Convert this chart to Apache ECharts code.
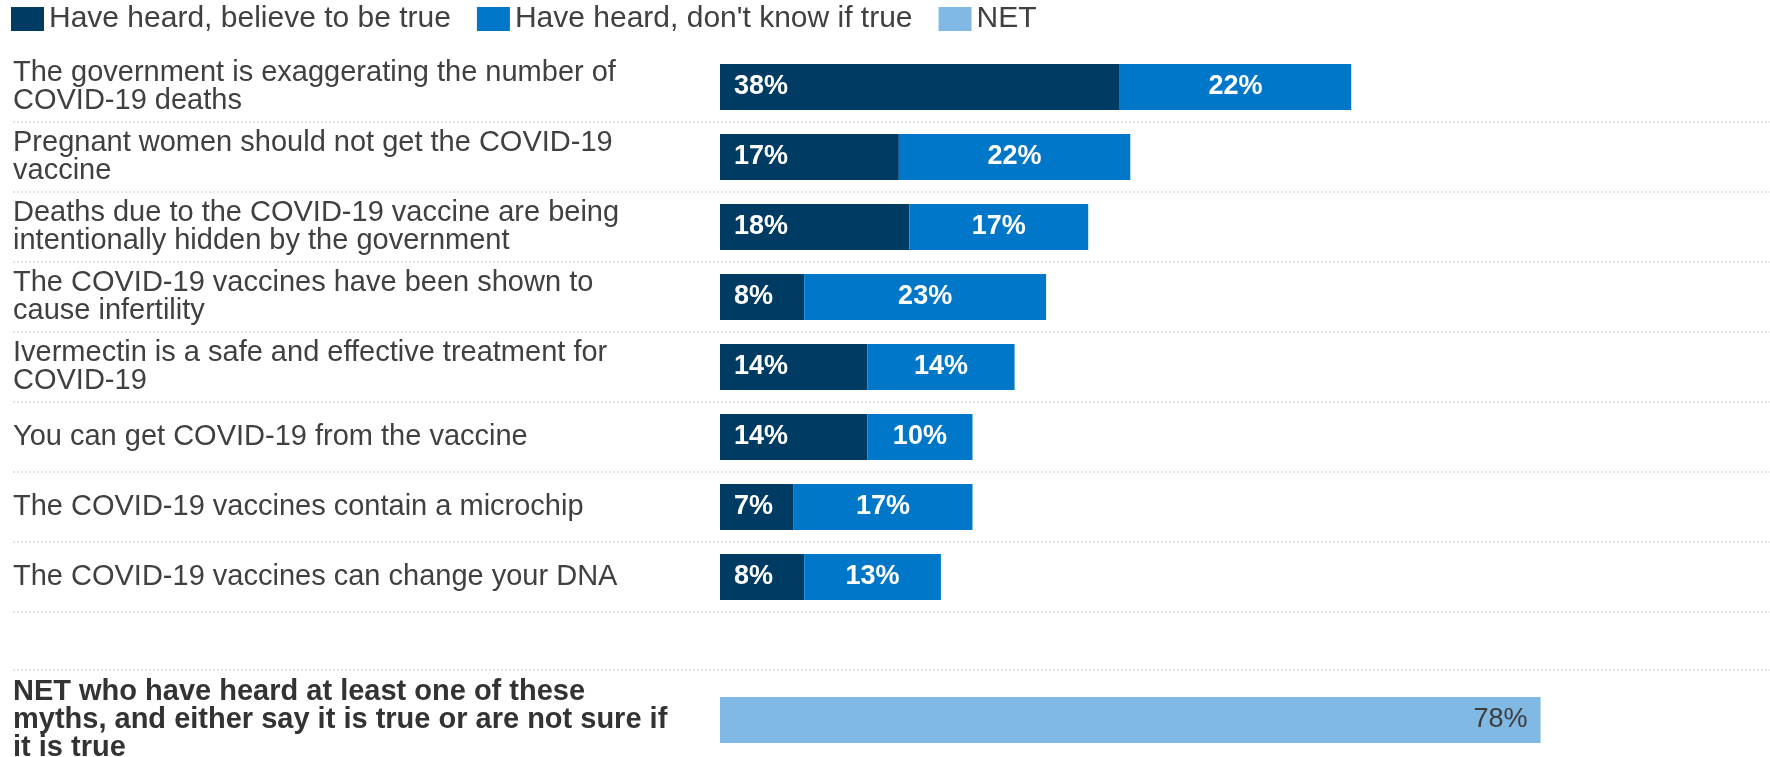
<!DOCTYPE html>
<html>
<head>
<meta charset="utf-8">
<script src="https://cdn.jsdelivr.net/npm/echarts@6/dist/echarts.min.js"></script>
<style>
  html, body { margin: 0; padding: 0; background: #fff; }
  #chart { width: 1770px; height: 757px; }
</style>
</head>
<body>
<div id="chart"></div>
<script>
// ---- Data ----
const categories = [
  "The government is exaggerating the number of\nCOVID-19 deaths",
  "Pregnant women should not get the COVID-19\nvaccine",
  "Deaths due to the COVID-19 vaccine are being\nintentionally hidden by the government",
  "The COVID-19 vaccines have been shown to\ncause infertility",
  "Ivermectin is a safe and effective treatment for\nCOVID-19",
  "You can get COVID-19 from the vaccine",
  "The COVID-19 vaccines contain a microchip",
  "The COVID-19 vaccines can change your DNA"
];
const believeTrue = [38, 17, 18, 8, 14, 14, 7, 8];
const dontKnow = [22, 22, 17, 23, 14, 10, 17, 13];
const netCategory = ["NET who have heard at least one of these\nmyths, and either say it is true or are not sure if\nit is true"];
const netValues = [78];
const seriesNames = ["Have heard, believe to be true", "Have heard, don't know if true", "NET"];

// ---- Layout / style ----
const FONT = "'Liberation Sans', Arial, sans-serif";
const GRID_LEFT = 13;
const PX_PER_UNIT = 10.52;
const ZERO_X = 720;
const X_MIN = -(ZERO_X - GRID_LEFT) / PX_PER_UNIT;
const X_MAX = (1770 - ZERO_X) / PX_PER_UNIT;
const colors = ["#003b64", "#0077c8", "#80b9e3"];
const splitStyle = { color: "#d9d9d9", type: [2, 2], width: 1.5 };

const chart = echarts.init(document.getElementById('chart'), null, { renderer: 'canvas' });

const xAxisBase = { type: 'value', min: X_MIN, max: X_MAX, show: false, splitLine: { show: false } };

const option = {
  animation: false,
  backgroundColor: '#fff',
  color: colors,
  textStyle: { fontFamily: FONT },
  legend: {
    data: seriesNames,
    left: 11, top: 4, padding: 0,
    itemWidth: 33, itemHeight: 24,
    itemGap: 26, itemTextGap: 9,
    icon: 'rect',
    textStyle: { fontSize: 30, color: '#404040', fontFamily: FONT },
    selectedMode: false
  },
  grid: [
    { left: GRID_LEFT, right: 0, top: 52, height: 560, outerBoundsMode: 'none' },
    { left: GRID_LEFT, right: 0, top: 670, height: 100, outerBoundsMode: 'none' }
  ],
  xAxis: [
    Object.assign({ gridIndex: 0 }, xAxisBase),
    Object.assign({ gridIndex: 1 }, xAxisBase)
  ],
  yAxis: [
    {
      gridIndex: 0, type: 'category', data: categories, inverse: true,
      axisLine: { show: false }, axisTick: { show: false },
      axisLabel: { inside: true, margin: 0, interval: 0, fontSize: 29, lineHeight: 28, color: '#404040', fontFamily: FONT, align: 'left' },
      splitLine: { show: true, interval: 0, showMinLine: false, showMaxLine: true, lineStyle: splitStyle }
    },
    {
      gridIndex: 1, type: 'category', data: netCategory, inverse: true,
      axisLine: { show: false }, axisTick: { show: false },
      axisLabel: { inside: true, margin: 0, interval: 0, fontSize: 29, lineHeight: 28, fontWeight: 'bold', color: '#333', fontFamily: FONT, align: 'left' },
      splitLine: { show: true, interval: 0, showMinLine: true, showMaxLine: false, lineStyle: splitStyle }
    }
  ],
  series: [
    {
      name: seriesNames[0], type: 'bar', stack: 'myth', xAxisIndex: 0, yAxisIndex: 0,
      data: believeTrue, barWidth: 46,
      itemStyle: { color: colors[0] },
      label: { show: true, position: 'insideLeft', distance: 14, color: '#fff', fontSize: 27, fontWeight: 'bold', fontFamily: FONT, textBorderWidth: 0, formatter: p => p.value + '%' }
    },
    {
      name: seriesNames[1], type: 'bar', stack: 'myth', xAxisIndex: 0, yAxisIndex: 0,
      data: dontKnow, barWidth: 46,
      itemStyle: { color: colors[1] },
      label: { show: true, position: 'inside', color: '#fff', fontSize: 27, fontWeight: 'bold', fontFamily: FONT, textBorderWidth: 0, formatter: p => p.value + '%' }
    },
    {
      name: seriesNames[2], type: 'bar', xAxisIndex: 1, yAxisIndex: 1,
      data: netValues, barWidth: 46,
      itemStyle: { color: colors[2] },
      label: { show: true, position: 'insideRight', distance: 13, color: '#3d3d3d', fontSize: 27, fontFamily: FONT, textBorderWidth: 0, formatter: p => p.value + '%' }
    }
  ]
};
chart.setOption(option);
</script>
</body>
</html>
